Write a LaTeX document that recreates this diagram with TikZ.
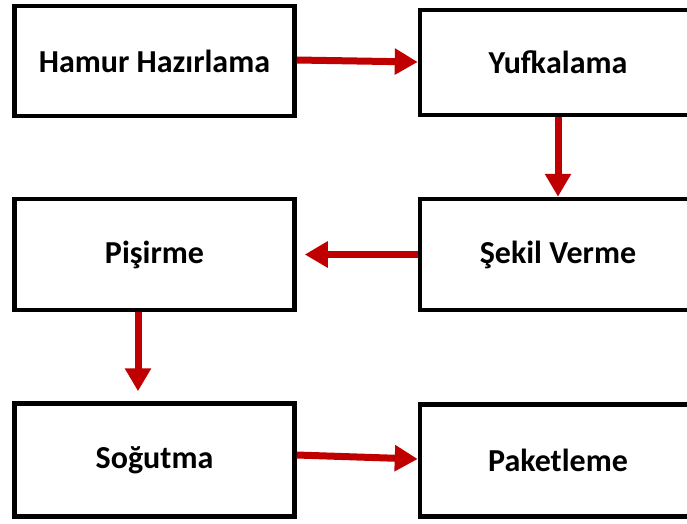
\documentclass[tikz,border=0pt]{standalone}
\usepackage{fontspec}
\setmainfont{Carlito}
\usepackage{xcolor}
\usetikzlibrary{arrows.meta}
\definecolor{okred}{RGB}{192,0,0}

\begin{document}
\begin{tikzpicture}[x=1pt,y=-1pt,
        stepbox/.style={draw,line width=4.5pt,fill=white,inner sep=0pt,
            minimum height=110pt,font=\fontsize{32}{36}\selectfont\bfseries},
        leftbox/.style={stepbox,minimum width=280pt},
        rightbox/.style={stepbox,minimum width=276pt},
        flow/.style={okred,line width=7pt,-{Triangle[length=23pt,width=25pt]}}]
            \useasboundingbox[fill=white] (0,0) rectangle (687,523);
            \node[leftbox] (hamur) at (154.5,61) {Hamur Hazırlama};
            \node[rightbox,minimum height=105pt] (yufka) at (558,62.5) {Yufkalama};
            \node[leftbox,minimum height=111pt] (pisir) at (154.5,254.5) {Pişirme};
            \node[rightbox,minimum height=111pt] (sekil) at (558,254.5) {Şekil Verme};
            \node[leftbox,minimum height=113pt] (sogut) at (154.5,460) {Soğutma};
            \node[rightbox,minimum height=112pt] (paket) at (558,460.5) {Paketleme};
            \draw[flow] ([yshift=1pt]hamur.east) -- ([yshift=0.5pt]yufka.west);
            \draw[flow] (yufka.south) -- (sekil.north);
            \draw[flow,shorten >=8pt] (sekil.west) -- (pisir.east);
            \draw[flow,shorten >=10pt] ([xshift=-16.5pt]pisir.south) -- ([xshift=-16.5pt]sogut.north);
            \draw[flow] ([yshift=5pt]sogut.east) -- ([yshift=1.5pt]paket.west);
        \end{tikzpicture}
\end{document}
